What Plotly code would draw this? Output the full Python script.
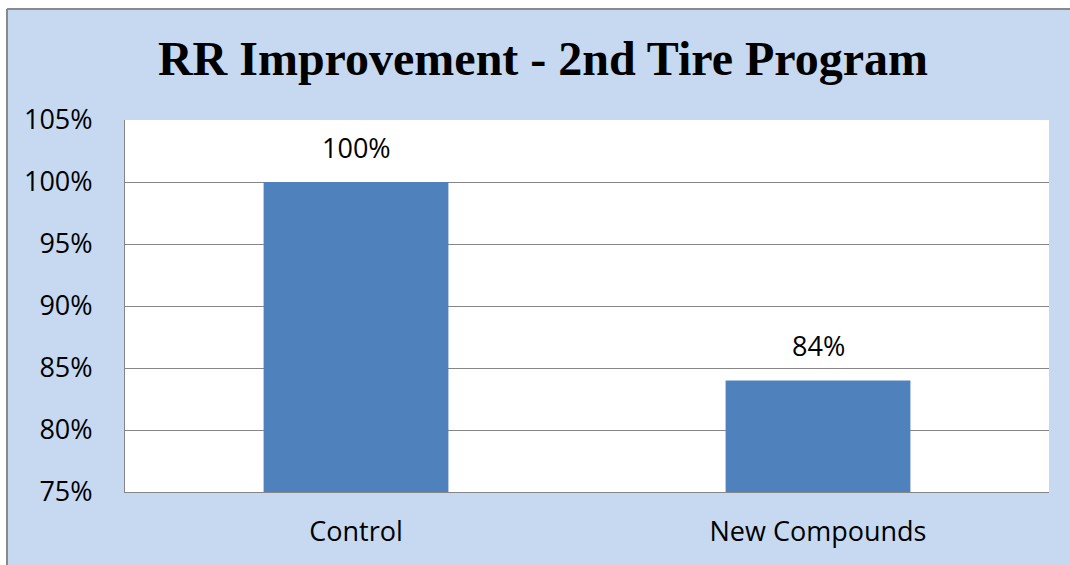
import plotly.graph_objects as go

categories = ["Control", "New Compounds"]
values = [100, 84]
value_labels = ["100%", "84%"]
y_ticks = [75, 80, 85, 90, 95, 100, 105]
y_tick_labels = ["75%", "80%", "85%", "90%", "95%", "100%", "105%"]

W, H = 1070, 565
L, R, T, B = 125, 1049, 120, 492
pw, ph = R - L, B - T

def px_x(p):
    return (p - L) / pw

def px_y(p):
    return (B - p) / ph

fig = go.Figure()
fig.add_trace(go.Bar(
    x=categories, y=values, width=0.4,
    marker=dict(color="#4F81BD", line=dict(width=0)),
    hoverinfo="skip",
))

for c, v, t in zip(categories, values, value_labels):
    fig.add_annotation(x=c, y=v, text=t, showarrow=False, yanchor="bottom",
                       yshift=14, font=dict(family="Open Sans", size=27, color="#000000"))

# chart area background (no stroke), then top/left border lines
fig.add_shape(type="rect", xref="paper", yref="paper", layer="below",
              x0=px_x(7), x1=px_x(1070), y0=px_y(565), y1=px_y(9),
              fillcolor="#C6D9F1", line=dict(width=0))
fig.add_shape(type="line", xref="paper", yref="paper", layer="below",
              x0=px_x(7), x1=px_x(1070), y0=px_y(9), y1=px_y(9),
              line=dict(color="#898989", width=2))
fig.add_shape(type="line", xref="paper", yref="paper", layer="below",
              x0=px_x(7), x1=px_x(7), y0=px_y(565), y1=px_y(9),
              line=dict(color="#898989", width=2))
fig.add_shape(type="rect", xref="paper", yref="paper", layer="below",
              x0=0, x1=1, y0=0, y1=1, fillcolor="#FFFFFF", line=dict(width=0))

fig.update_layout(
    width=W, height=H,
    margin=dict(l=L, r=W - R, t=T, b=H - B, pad=0),
    paper_bgcolor="#FFFFFF", plot_bgcolor="#FFFFFF",
    showlegend=False,
    title=dict(text="<b>RR Improvement - 2nd Tire Program</b>",
               font=dict(family="Liberation Serif", size=48, color="#000000"),
               xref="paper", x=px_x(543), xanchor="center",
               yref="container", y=1 - 58 / H, yanchor="middle"),
    bargap=0.6,
)
fig.update_xaxes(
    showgrid=False, showline=True, linecolor="#868686", linewidth=1,
    ticks="", tickfont=dict(family="Open Sans", size=27, color="#000000"),
    ticklabelstandoff=16, fixedrange=True,
)
fig.update_yaxes(
    range=[75, 105], tickvals=y_ticks, ticktext=y_tick_labels,
    showgrid=True, gridcolor="#868686", gridwidth=1,
    showline=True, linecolor="#868686", linewidth=1, zeroline=False,
    ticks="", tickfont=dict(family="Open Sans", size=27, color="#000000"),
    ticklabelstandoff=26, fixedrange=True,
)

fig.write_html(
    "out.html",
    config={"displayModeBar": False},
    post_script="document.body.style.margin='0';document.body.style.overflow='hidden';",
)
